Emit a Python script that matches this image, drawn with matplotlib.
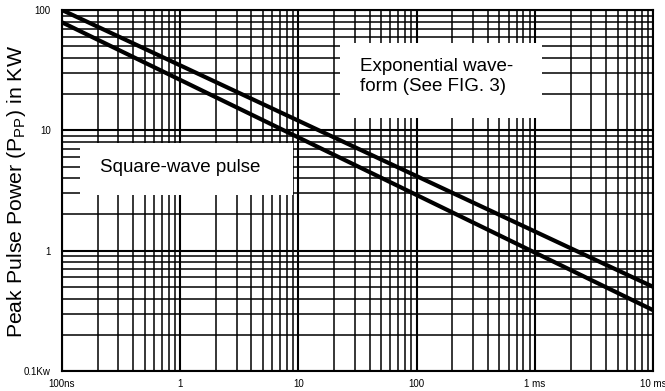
import matplotlib
matplotlib.use("Agg")
from matplotlib import pyplot as plt
from matplotlib.patches import Rectangle

# pulse duration in microseconds, power in KW
pulse_time = [0.1, 10000]
exp_wave_power = [100, 0.5]
square_wave_power = [79, 0.32]

x_ticks = [0.1, 1, 10, 100, 1000, 10000]
x_labels = ["100ns", "1", "10", "100", "1 ms", "10 ms"]
y_ticks = [0.1, 1, 10, 100]
y_labels = ["0.1Kw", "1", "10", "100"]

plt.rcParams['font.family'] = ['Liberation Sans', 'DejaVu Sans']

fig = plt.figure(figsize=(6.65, 3.91), dpi=100)
ax = fig.add_axes([0.0932, 0.0512, 0.889, 0.9232])

ax.set_xscale("log")
ax.set_yscale("log")
ax.set_xlim(0.1, 10000)
ax.set_ylim(0.1, 100)

ax.grid(True, which="major", color="black", linewidth=1.5)
ax.grid(True, which="minor", color="black", linewidth=1.1)

ax.plot(pulse_time, exp_wave_power, color="black", linewidth=3, zorder=5, solid_capstyle="butt")
ax.plot(pulse_time, square_wave_power, color="black", linewidth=3, zorder=5, solid_capstyle="butt")

# white label boxes cover the grid
ax.add_patch(Rectangle((0.470, 0.701), 0.342, 0.208, transform=ax.transAxes,
                       facecolor="white", edgecolor="none", zorder=3))
ax.add_patch(Rectangle((0.030, 0.488), 0.361, 0.144, transform=ax.transAxes,
                       facecolor="white", edgecolor="none", zorder=3))
ax.text(0.504, 0.815, "Exponential wave-\nform (See FIG. 3)", transform=ax.transAxes,
        fontsize=13.5, va="center", ha="left", linespacing=1.2, zorder=4)
ax.text(0.064, 0.564, "Square-wave pulse", transform=ax.transAxes,
        fontsize=13.5, va="center", ha="left", zorder=4)

ax.set_xticks(x_ticks)
ax.set_xticklabels(x_labels)
ax.set_yticks(y_ticks)
ax.set_yticklabels(y_labels)
ax.tick_params(which="both", length=0, labelsize=7)
ax.tick_params(axis="x", pad=6)
ax.tick_params(axis="y", pad=8)

fig.text(0.025, 0.51, "Peak Pulse Power (P$_{\\mathregular{PP}}$) in KW", fontsize=15.3,
         rotation=90, ha="center", va="center")

for spine in ax.spines.values():
    spine.set_linewidth(1.5)

fig.savefig("out.png", dpi=100)
